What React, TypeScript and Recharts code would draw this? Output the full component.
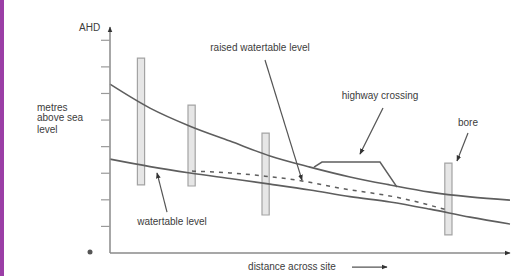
import {
  ComposedChart,
  Line,
  XAxis,
  YAxis,
  ReferenceArea,
  ReferenceLine,
  ReferenceDot,
} from 'recharts';

// x: distance across site (0-100), y: metres above AHD (tick every 1)
const groundLevel = [
  { x: 0, y: 6.35 },
  { x: 10, y: 5.45 },
  { x: 20, y: 4.77 },
  { x: 30, y: 4.21 },
  { x: 40, y: 3.65 },
  { x: 50, y: 3.23 },
  { x: 60, y: 2.86 },
  { x: 70, y: 2.56 },
  { x: 80, y: 2.29 },
  { x: 90, y: 2.11 },
  { x: 100, y: 1.99 },
];

const watertableLevel = [
  { x: 0, y: 3.53 },
  { x: 10, y: 3.25 },
  { x: 20, y: 3.01 },
  { x: 30, y: 2.8 },
  { x: 40, y: 2.59 },
  { x: 50, y: 2.37 },
  { x: 60, y: 2.12 },
  { x: 70, y: 1.92 },
  { x: 80, y: 1.65 },
  { x: 90, y: 1.35 },
  { x: 100, y: 1.09 },
];

const raisedLevel = [
  { x: 20.5, y: 3.08 },
  { x: 30, y: 3.01 },
  { x: 38.75, y: 2.89 },
  { x: 48, y: 2.71 },
  { x: 57.5, y: 2.44 },
  { x: 72.5, y: 2.07 },
  { x: 84.25, y: 1.62 },
];

const highwayCrossing = [
  { x: 51, y: 3.23 },
  { x: 53, y: 3.42 },
  { x: 67.5, y: 3.42 },
  { x: 71.75, y: 2.48 },
];

const bores = [
  { x: 7.75, top: 7.33, bottom: 2.56 },
  { x: 20.4, top: 5.56, bottom: 2.52 },
  { x: 38.9, top: 4.51, bottom: 1.43 },
  { x: 84.6, top: 3.38, bottom: 0.68 },
];

const yTicks = [1, 2, 3, 4, 5, 6, 7, 8];

const leaders = [
  { from: { x: 38.75, y: 7.26 }, to: { x: 48, y: 2.74 } },
  { from: { x: 68.25, y: 5.45 }, to: { x: 62.5, y: 3.72 } },
  { from: { x: 89.5, y: 4.51 }, to: { x: 86.75, y: 3.46 } },
  { from: { x: 14.25, y: 1.54 }, to: { x: 11.75, y: 3.01 } },
  { from: { x: 60.5, y: -0.53 }, to: { x: 69.25, y: -0.53 } },
];

const notes = [
  { text: 'AHD', x: -5.1, y: 8.5, anchor: 'middle' },
  { text: 'metres', x: -18.25, y: 5.49, anchor: 'start' },
  { text: 'above sea', x: -18.25, y: 5.08, anchor: 'start' },
  { text: 'level', x: -18.25, y: 4.66, anchor: 'start' },
  { text: 'raised watertable level', x: 37.5, y: 7.74, anchor: 'middle' },
  { text: 'highway crossing', x: 67.5, y: 5.94, anchor: 'middle' },
  { text: 'bore', x: 89.5, y: 4.92, anchor: 'middle' },
  { text: 'watertable level', x: 15.5, y: 1.17, anchor: 'middle' },
  { text: 'distance across site', x: 45.5, y: -0.49, anchor: 'middle' },
];

const INK = '#5e5e5e';
const TEXT = '#3c3c3c';
const FONT = '"Liberation Sans", Arial, sans-serif';
const BORE_HALF = 0.9;

export default function App() {
  return (
    <div style={{ position: 'relative', width: 523, height: 276, background: '#fff' }}>
      <style>{'body{margin:0}'}</style>
      <svg width={0} height={0} style={{ position: 'absolute' }}>
        <defs>
          <marker
            id="tip"
            viewBox="0 0 10 10"
            refX="9"
            refY="5"
            markerWidth="6"
            markerHeight="6"
            markerUnits="userSpaceOnUse"
            orient="auto-start-reverse"
          >
            <path d="M0,1 L10,5 L0,9 z" fill="#333" />
          </marker>
        </defs>
      </svg>
      <div style={{ position: 'absolute', left: 0, top: 0, width: 4, height: 276, background: '#9b3ea6' }} />
      <ComposedChart width={523} height={276} margin={{ top: 27, right: 13, bottom: 0, left: 0 }}>
        <XAxis
          type="number"
          dataKey="x"
          domain={[0, 100]}
          height={23}
          tick={false}
          tickLine={false}
          axisLine={{ stroke: '#8a8a8a', strokeWidth: 1.5, markerEnd: 'url(#tip)' }}
        />
        <YAxis
          type="number"
          dataKey="y"
          domain={[0, 8.5]}
          ticks={yTicks}
          width={110}
          tickFormatter={() => ''}
          tickSize={9}
          tickLine={{ stroke: '#9a9a9a', strokeWidth: 1.2 }}
          axisLine={{ stroke: '#8a8a8a', strokeWidth: 1.5, markerStart: 'url(#tip)' }}
        />
        {bores.map((b, i) => (
          <ReferenceArea
            key={`bore-${i}`}
            x1={b.x - BORE_HALF}
            x2={b.x + BORE_HALF}
            y1={b.bottom}
            y2={b.top}
            fill="#c8c8c8"
            fillOpacity={0.45}
            stroke="#a3a3a3"
            strokeWidth={1.2}
            ifOverflow="visible"
          />
        ))}
        <Line
          data={groundLevel}
          dataKey="y"
          type="monotone"
          stroke={INK}
          strokeWidth={1.6}
          dot={false}
          activeDot={false}
          isAnimationActive={false}
        />
        <Line
          data={watertableLevel}
          dataKey="y"
          type="monotone"
          stroke={INK}
          strokeWidth={1.6}
          dot={false}
          activeDot={false}
          isAnimationActive={false}
        />
        <Line
          data={raisedLevel}
          dataKey="y"
          type="monotone"
          stroke={INK}
          strokeWidth={1.5}
          strokeDasharray="4 5"
          dot={false}
          activeDot={false}
          isAnimationActive={false}
        />
        <Line
          data={highwayCrossing}
          dataKey="y"
          type="linear"
          stroke={INK}
          strokeWidth={1.5}
          dot={false}
          activeDot={false}
          isAnimationActive={false}
        />
        {leaders.map((l, i) => (
          <ReferenceLine
            key={`leader-${i}`}
            segment={[l.from, l.to]}
            stroke="#555"
            strokeWidth={1.2}
            markerEnd="url(#tip)"
            ifOverflow="visible"
          />
        ))}
        <ReferenceDot x={-5} y={0.04} r={2.5} fill="#555" stroke="none" ifOverflow="visible" />
        {notes.map((n, i) => (
          <ReferenceDot
            key={`note-${i}`}
            x={n.x}
            y={n.y}
            r={0}
            ifOverflow="visible"
            shape={(p: any) => (
              <text
                x={p.cx}
                y={p.cy}
                textAnchor={n.anchor}
                dominantBaseline="central"
                fontSize={10}
                fontFamily={FONT}
                fill={TEXT}
              >
                {n.text}
              </text>
            )}
          />
        ))}
      </ComposedChart>
    </div>
  );
}
